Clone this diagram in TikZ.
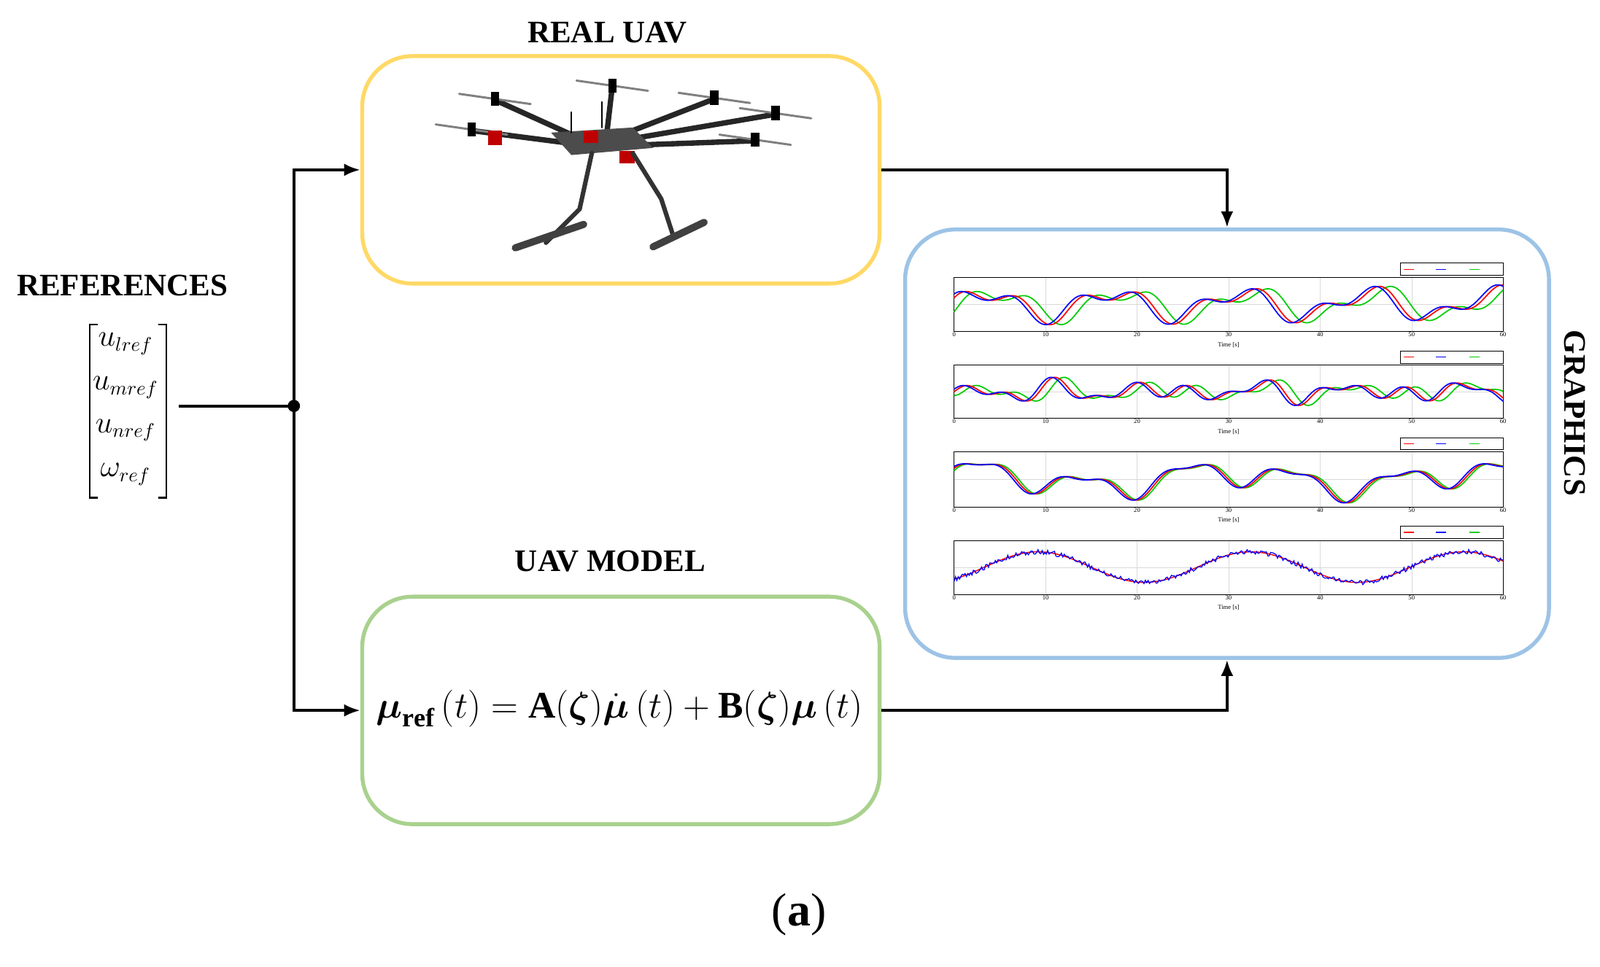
\documentclass[tikz,border=0pt]{standalone}
\usepackage{amsmath,amssymb}
\usepackage{fontspec}
\setmainfont{Liberation Serif}
\usetikzlibrary{arrows.meta}
\begin{document}
\begin{tikzpicture}[x=0.02cm,y=-0.02cm,
  box/.style={rounded corners=28, line width=2.2pt},
  conn/.style={line width=1.6pt,-{Latex[length=9pt,width=7pt]}},
  ttl/.style={font=\bfseries\fontsize{17.5}{20}\selectfont},
  ent/.style={font=\fontsize{16}{18}\selectfont, inner sep=1pt},
  tick/.style={font=\fontsize{3.5}{4}\selectfont, inner sep=0.5pt}]
\useasboundingbox (0,0) rectangle (1568,948);
% titles
\node[ttl] (t1) at (595,32) {REAL UAV};
\node[ttl] (t2) at (598,550) {UAV MODEL};
\node[ttl] (t3) at (120,280) {REFERENCES};
\node[ttl,rotate=-90] (t4) at (1543,405) {GRAPHICS};
% boxes
\node[box,draw={rgb,255:red,255;green,217;blue,102},minimum width=507*0.02cm,minimum height=223*0.02cm] (uav) at (608.5,166.5) {};
\node[box,draw={rgb,255:red,169;green,209;blue,142},minimum width=507*0.02cm,minimum height=223*0.02cm] (model) at (608.5,696.5) {};
\node[box,draw={rgb,255:red,157;green,195;blue,230},minimum width=631*0.02cm,minimum height=420*0.02cm] (gr) at (1202.5,435) {};
% references vector
\node[ent] (e1) at (123,337) {$u_{lref}$};
\node[ent] (e2) at (123,380) {$u_{mref}$};
\node[ent] (e3) at (123,422) {$u_{nref}$};
\node[ent] (e4) at (123,465) {$\omega_{ref}$};
\draw[line width=0.9pt] (96,318) -- (88,318) -- (88,488) -- (96,488);
\draw[line width=0.9pt] (155,318) -- (163,318) -- (163,488) -- (155,488);
\coordinate (vs) at (175,398);
\coordinate (j) at (288,398);
\fill (j) circle (6);
\draw[line width=1.6pt] (vs) -- (j);
\draw[conn] (j) |- (uav.west);
\draw[conn] (j) |- (model.west);
\draw[conn] (uav.east) -| (gr.north);
\draw[conn] (model.east) -| (gr.south);
% equation
\node (eq) at (607,695) {\fontsize{21}{26}\selectfont$\boldsymbol{\mu}_{\mathbf{ref}}\left(t\right)=\mathbf{A}(\boldsymbol{\zeta})\dot{\boldsymbol{\mu}}\left(t\right)+\mathbf{B}(\boldsymbol{\zeta})\boldsymbol{\mu}\left(t\right)$};
% drone
\begin{scope}[line cap=round]
 \draw[line width=3pt,black!85] (560,132) -- (485,98);
 \draw[line width=3pt,black!85] (555,140) -- (462,128);
 \draw[line width=3pt,black!85] (595,128) -- (600,85);
 \draw[line width=3pt,black!85] (615,130) -- (700,97);
 \draw[line width=3pt,black!85] (625,135) -- (760,112);
 \draw[line width=3pt,black!85] (630,142) -- (740,138);
 \fill[gray!60!black] (540,130) -- (620,125) -- (640,145) -- (560,152) -- cycle;
 \foreach \x/\y in {485/98,462/128,600/85,700/97,760/112,740/138}{
   \draw[line width=1.2pt,gray] (\x-35,\y-6) -- (\x+35,\y+4);
   \fill[black] (\x-4,\y-8) rectangle (\x+4,\y+6);}
 \fill[red!75!black] (478,128) rectangle (492,142);
 \fill[red!75!black] (607,148) rectangle (622,160);
 \fill[red!75!black] (572,128) rectangle (586,140);
 \draw[line width=2.5pt,black!80] (580,150) -- (568,205) -- (535,238);
 \draw[line width=2.5pt,black!80] (620,150) -- (648,195) -- (660,232);
 \draw[line width=4pt,black!75] (505,243) -- (572,220);
 \draw[line width=4pt,black!75] (640,242) -- (690,218);
 \draw[line width=1pt] (560,110) -- (560,130) (590,100) -- (590,125);
\end{scope}
% plots
\foreach \yt/\yb/\k in {272/325/1,358/410/2,443/497/3,530/583/4}{
  \pgfmathsetmacro{\yc}{(\yt+\yb)/2}
  \draw[black!15,line width=0.2pt] \foreach \i in {1,...,5}{(935+\i*89.667,\yt) -- (935+\i*89.667,\yb)} (935,\yc) -- (1473,\yc);
  \draw[line width=0.4pt] (935,\yt) rectangle (1473,\yb);
  \foreach \i in {0,...,6}{\pgfmathtruncatemacro{\lab}{\i*10}\node[tick,below] at (935+\i*89.667,\yb) {\lab};}
  \node[tick] at (1204,\yb+13) {Time [s]};
  \draw[line width=0.3pt,fill=white] (1372,\yt-14) rectangle (1473,\yt-2);
  \draw[red,line width=0.5pt] (1376,\yt-8) -- (1386,\yt-8);
  \draw[blue,line width=0.5pt] (1407,\yt-8) -- (1417,\yt-8);
  \draw[green!80!black,line width=0.5pt] (1440,\yt-8) -- (1450,\yt-8);
}
\newcommand{\myplot}[4]{\draw[#1,line width=0.7pt] plot[domain=0:60,samples=150,smooth,variable=\t] ({935+\t*8.9667},{#2-#3*(#4)});}
% plot 1
\foreach \c/\p in {green!80!black/-1.2,red/0,blue/0.5}{
 \myplot{\c}{298.5}{22}{0.55*sin(deg(0.45*(\t+\p)))+0.35*sin(deg(0.95*(\t+\p)+1))}}
% plot 2
\foreach \c/\p in {green!80!black/-1.0,red/0,blue/0.4}{
 \myplot{\c}{384}{12}{0.8*sin(deg(0.7*(\t+\p)))*sin(deg(0.13*(\t+\p)))+0.4*sin(deg(1.3*(\t+\p)))}}
% plot 3
\foreach \c/\p in {green!80!black/-0.3,red/0,blue/0.3}{
 \myplot{\c}{470}{22}{0.5*sin(deg(0.55*(\t+\p)))+0.35*sin(deg(0.23*(\t+\p)+1))+0.2*cos(deg(1.1*(\t+\p)))}}
% plot 4
\draw[red,line width=0.6pt] plot[domain=0:60,samples=120,smooth,variable=\t] ({935+\t*8.9667},{556-20*(0.75*sin(deg(0.27*\t-0.9)))});
\draw[blue,line width=0.5pt] plot[domain=0:60,samples=400,variable=\t] ({935+\t*8.9667},{556-20*(0.75*sin(deg(0.27*\t-0.9))+0.12*rand)});
% caption
\node (cap) at (783,897) {\fontsize{26}{30}\selectfont(\textbf{a})};
\end{tikzpicture}
\end{document}
